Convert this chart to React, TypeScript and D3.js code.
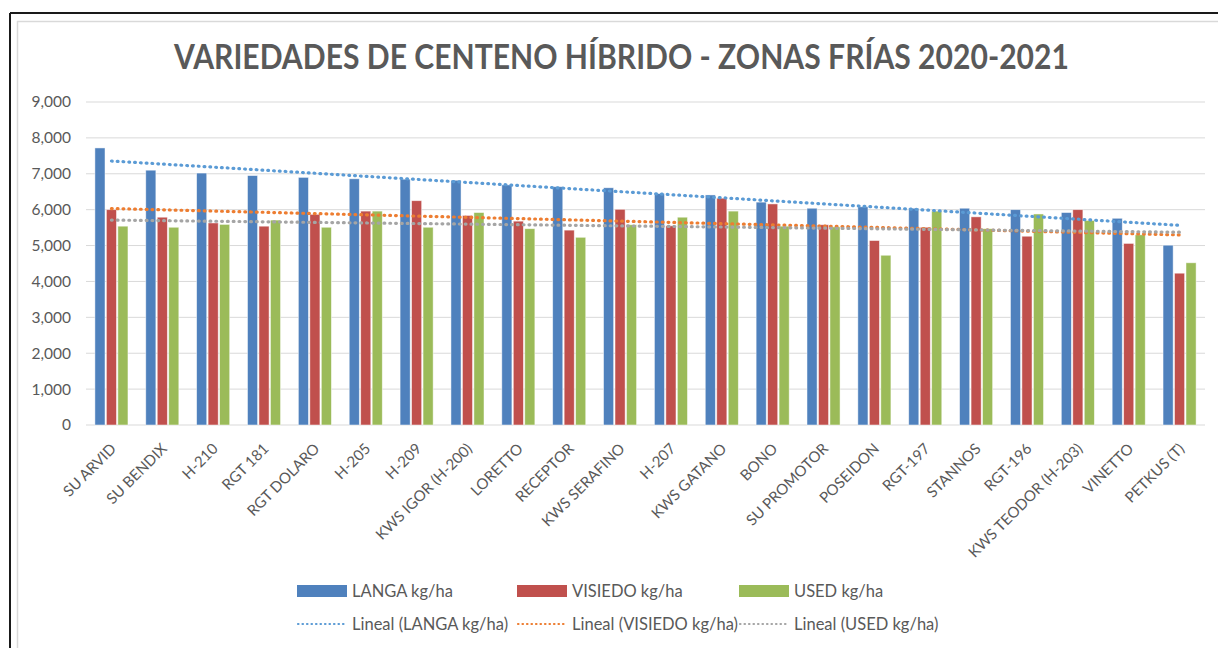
import * as d3 from "d3";

const categories = [
  "SU ARVID", "SU BENDIX", "H-210", "RGT 181", "RGT DOLARO", "H-205", "H-209",
  "KWS IGOR (H-200)", "LORETTO", "RECEPTOR", "KWS SERAFINO", "H-207", "KWS GATANO",
  "BONO", "SU PROMOTOR", "POSEIDON", "RGT-197", "STANNOS", "RGT-196",
  "KWS TEODOR (H-203)", "VINETTO", "PETKUS (T)",
];

const langa = [
  7720, 7100, 7020, 6950, 6900, 6860, 6850, 6820, 6690, 6640, 6610,
  6450, 6410, 6210, 6040, 6080, 6040, 6040, 6000, 5920, 5760, 5010,
];
const visiedo = [
  6000, 5790, 5630, 5540, 5870, 5960, 6250, 5840, 5680, 5430, 6010,
  5550, 6320, 6160, 5580, 5140, 5510, 5800, 5260, 6000, 5060, 4230,
];
const used = [
  5540, 5510, 5590, 5710, 5510, 5960, 5510, 5920, 5470, 5230, 5580,
  5790, 5960, 5540, 5520, 4730, 5960, 5470, 5880, 5700, 5300, 4520,
];

const yTicks = [0, 1000, 2000, 3000, 4000, 5000, 6000, 7000, 8000, 9000];

const seriesNames = ["LANGA kg/ha", "VISIEDO kg/ha", "USED kg/ha"];
const barColors = ["#4f81bd", "#c0504d", "#9bbb59"];
const trendColors = ["#5b9bd5", "#ed7d31", "#a5a5a5"];

const font = "Lato, 'Open Sans', sans-serif";
const textColor = "#595959";

// least squares fit over category index 1..n, like Excel's linear trendline
function linearFit(values: number[]) {
  const xs = values.map((_, i) => i + 1);
  const mx = d3.mean(xs)!;
  const my = d3.mean(values)!;
  const slope =
    d3.sum(xs, (x, i) => (x - mx) * (values[i] - my)) /
    d3.sum(xs, (x) => (x - mx) * (x - mx));
  return { slope, intercept: my - slope * mx };
}

export default function App() {
  const width = 1218;
  const height = 648;
  const plot = { left: 86, right: 1205, top: 102, bottom: 425 };
  const series = [langa, visiedo, used];

  const x0 = d3
    .scaleBand<string>()
    .domain(categories)
    .range([plot.left, plot.right])
    .paddingInner(0.35)
    .paddingOuter(0.175);
  const x1 = d3
    .scaleBand<number>()
    .domain([0, 1, 2])
    .range([0, x0.bandwidth()])
    .paddingInner(0.12);
  const y = d3.scaleLinear().domain([0, 9000]).range([plot.bottom, plot.top]);
  const fmt = d3.format(",");

  const center = (i: number) => x0(categories[i])! + x0.bandwidth() / 2;

  const legendX = [297, 517, 739];

  return (
    <svg
      width={width}
      height={height}
      style={{ position: "absolute", left: 0, top: 0, background: "#fff" }}
      fontFamily={font}
    >
      <rect x={0} y={0} width={width} height={height} fill="#fff" />
      {/* frame */}
      <line x1={10} x2={width} y1={13} y2={13} stroke="#1a1a1a" strokeWidth={2} />
      <line x1={10} x2={10} y1={13} y2={height} stroke="#1a1a1a" strokeWidth={2} />
      <line x1={17} x2={width} y1={21.5} y2={21.5} stroke="#d9d9d9" strokeWidth={1.5} />
      <line x1={17.5} x2={17.5} y1={21} y2={height} stroke="#d9d9d9" strokeWidth={1.5} />

      <text
        x={174}
        y={69}
        fontSize={35}
        fontWeight="bold"
        fill={textColor}
        textLength={895}
        lengthAdjust="spacingAndGlyphs"
      >
        VARIEDADES DE CENTENO HÍBRIDO  - ZONAS FRÍAS 2020-2021
      </text>

      {yTicks.map((t) => (
        <g key={t}>
          <line
            x1={plot.left}
            x2={plot.right}
            y1={y(t)}
            y2={y(t)}
            stroke="#d9d9d9"
            strokeWidth={1}
          />
          <text
            x={71}
            y={y(t)}
            dy="0.35em"
            textAnchor="end"
            fontSize={15.5}
            fill={textColor}
          >
            {fmt(t)}
          </text>
        </g>
      ))}

      {categories.map((c, i) => (
        <g key={c} transform={`translate(${x0(c)},0)`}>
          {series.map((s, k) => (
            <rect
              key={k}
              x={x1(k)}
              y={y(s[i])}
              width={x1.bandwidth()}
              height={plot.bottom - y(s[i])}
              fill={barColors[k]}
              stroke="#ffffff"
              strokeOpacity={0.6}
              strokeWidth={0.8}
            />
          ))}
        </g>
      ))}

      {series.map((s, k) => {
        const { slope, intercept } = linearFit(s);
        const ends = [0, categories.length - 1];
        const pts = ends.map(
          (i) => [center(i), y(intercept + slope * (i + 1))] as [number, number]
        );
        return (
          <path
            key={k}
            d={d3.line()(pts) ?? ""}
            fill="none"
            stroke={trendColors[k]}
            strokeWidth={3.2}
            strokeLinecap="round"
            strokeDasharray="0.8 5"
          />
        );
      })}

      {categories.map((c, i) => (
        <text
          key={c}
          transform={`translate(${center(i) + 2},${plot.bottom + 21}) rotate(-45)`}
          textAnchor="end"
          dy="0.35em"
          fontSize={15}
          fill={textColor}
        >
          {c}
        </text>
      ))}

      {seriesNames.map((n, k) => (
        <g key={n} transform={`translate(${legendX[k]},0)`}>
          <rect x={0} y={585} width={50} height={12} fill={barColors[k]} />
          <text x={55} y={591} dy="0.35em" fontSize={16.5} fill={textColor}>
            {n}
          </text>
          <line
            x1={1}
            x2={50}
            y1={624}
            y2={624}
            stroke={trendColors[k]}
            strokeWidth={2.2}
            strokeLinecap="round"
            strokeDasharray="0.5 4"
          />
          <text x={55} y={624} dy="0.35em" fontSize={16.5} fill={textColor}>
            {`Lineal (${n})`}
          </text>
        </g>
      ))}
    </svg>
  );
}
